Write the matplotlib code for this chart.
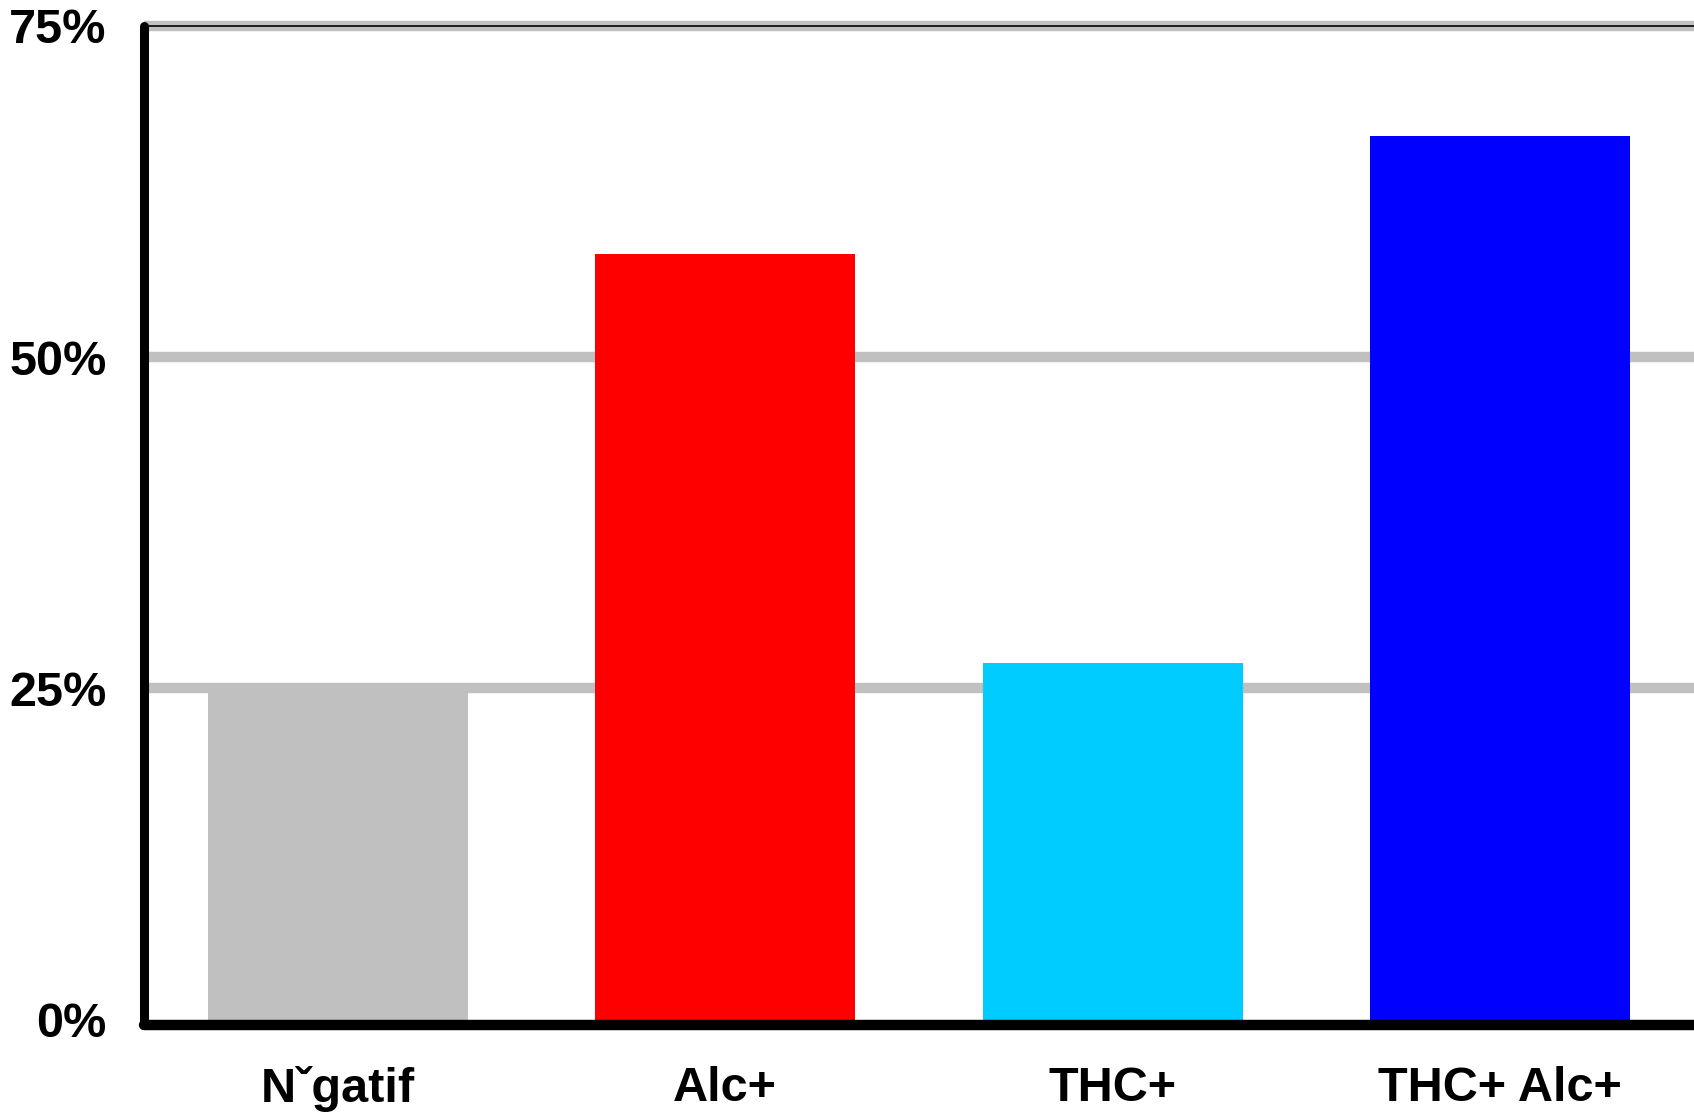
import matplotlib
matplotlib.use("Agg")
import matplotlib.pyplot as plt

categories = ["N\u02c7gatif", "Alc+", "THC+", "THC+ Alc+"]
values = [24.7, 57.8, 26.9, 66.7]
colors = ["#C0C0C0", "#FF0000", "#00CCFF", "#0000FF"]
yticks = [0, 25, 50, 75]
ytick_labels = ["0%", "25%", "50%", "75%"]

plt.rcParams['font.family'] = ['Liberation Sans', 'DejaVu Sans']

fig = plt.figure(figsize=(16.94, 11.12), dpi=100)
ax = fig.add_axes([0.085, 0.0830, 0.915, 0.9032])

ax.bar(range(len(categories)), values, width=0.67, color=colors, zorder=3)

ax.set_xlim(-0.5, 3.5)
ax.set_ylim(0, 75.8)
ax.set_yticks(yticks)
ax.set_yticklabels(ytick_labels)
ax.set_xticks(range(len(categories)))
ax.set_xticklabels(categories)

for y in yticks[1:]:
    ax.axhline(y, color="#C0C0C0", lw=7.5, zorder=1)
ax.axhline(75, color="black", lw=1.2, zorder=2)

for s in ["top", "right"]:
    ax.spines[s].set_visible(False)
ax.spines["left"].set_linewidth(6.5)
ax.spines["bottom"].set_linewidth(7.5)
ax.spines["left"].set_capstyle("round")
ax.spines["bottom"].set_capstyle("round")
ax.spines["bottom"].set_position(("outward", 3.6))
ax.spines["left"].set_bounds(-0.4, 75)
ax.spines["left"].set_zorder(4)
ax.spines["bottom"].set_zorder(4)

ax.tick_params(axis="both", length=0, labelsize=35)
ax.tick_params(axis="y", pad=27)
ax.tick_params(axis="x", pad=30)
for lab in ax.get_xticklabels() + ax.get_yticklabels():
    lab.set_fontweight("bold")

fig.savefig("out.png", dpi=100)
